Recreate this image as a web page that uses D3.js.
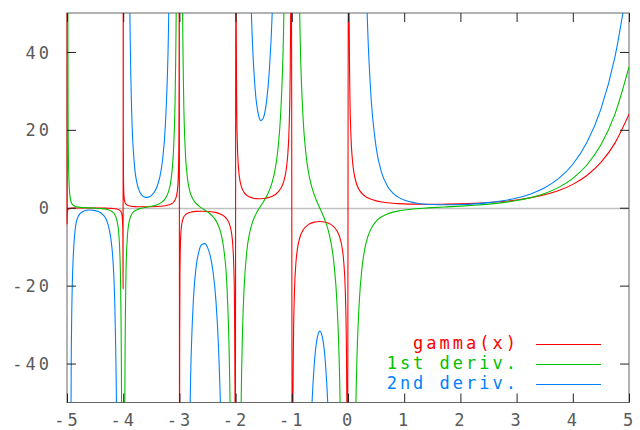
<!DOCTYPE html>
<html>
<head>
<meta charset="utf-8">
<script src="https://cdnjs.cloudflare.com/ajax/libs/d3/7.8.5/d3.min.js"></script>
<style>
body { margin: 0; background: #fff; }
#visual { width: 640px; height: 430px; }
text { font-family: "DejaVu Sans Mono", monospace; font-size: 17px; letter-spacing: 3px; }
</style>
</head>
<body>
<div id="visual"></div>
<script>
// values (gnuplot joins the gamma samples across the poles)
var gammaPts = [
  [-5, 1000], [-4.998, -4.185], [-4.995, -1.684], [-4.99, -0.848], [-4.98, -0.431], [-4.97, -0.293],
  [-4.95, -0.182], [-4.9, -0.100], [-4.8, -0.062], [-4.7, -0.054], [-4.6, -0.054], [-4.5, -0.060],
  [-4.4, -0.074], [-4.3, -0.102], [-4.2, -0.164], [-4.1, -0.364], [-4.05, -0.776], [-4.03, -1.329],
  [-4.02, -2.023], [-4.01, -4.105], [-4.005, -8.271], [-4.002, -20.77],
  [-3.9995, 83.40], [-3.998, 20.92], [-3.995, 8.411], [-3.99, 4.231], [-3.98, 2.148], [-3.97, 1.455],
  [-3.95, 0.902], [-3.9, 0.492], [-3.8, 0.300], [-3.7, 0.252], [-3.6, 0.247], [-3.5, 0.270],
  [-3.4, 0.326], [-3.3, 0.439], [-3.2, 0.689], [-3.15, 0.952], [-3.1, 1.492], [-3.05, 3.142],
  [-3.03, 5.357], [-3.02, 8.131], [-3.01, 16.46], [-3.005, 33.13], [-3.002, 83.12],
  [-2.998, -83.63], [-2.995, -33.60], [-2.99, -16.88], [-2.98, -8.550], [-2.97, -5.777], [-2.95, -3.563],
  [-2.925, -2.463], [-2.9, -1.918], [-2.85, -1.388], [-2.8, -1.139], [-2.7, -0.931], [-2.6, -0.889],
  [-2.5, -0.945], [-2.4, -1.108], [-2.3, -1.447], [-2.2, -2.205], [-2.15, -3.000], [-2.1, -4.626],
  [-2.075, -6.272], [-2.05, -9.584], [-2.03, -16.23], [-2.02, -24.56], [-2.01, -49.55], [-2.005, -99.54],
  [-1.995, 100.47], [-1.99, 50.47], [-1.98, 25.48], [-1.97, 17.16], [-1.95, 10.51], [-1.925, 7.203],
  [-1.9, 5.563], [-1.85, 3.956], [-1.8, 3.188], [-1.7, 2.514], [-1.6, 2.311], [-1.5, 2.363],
  [-1.4, 2.659], [-1.3, 3.328], [-1.2, 4.851], [-1.15, 6.449], [-1.1, 9.715], [-1.075, 13.01],
  [-1.05, 19.65], [-1.03, 32.95], [-1.02, 49.61], [-1.01, 99.59],
  [-0.99, -100.44], [-0.98, -50.45], [-0.97, -33.80], [-0.95, -20.49], [-0.925, -13.87], [-0.9, -10.57],
  [-0.85, -7.318], [-0.8, -5.739], [-0.7, -4.274], [-0.6, -3.697], [-0.5, -3.545], [-0.4, -3.723],
  [-0.3, -4.327], [-0.2, -5.821], [-0.15, -7.417], [-0.1, -10.69], [-0.075, -13.99], [-0.05, -20.63],
  [-0.03, -33.94], [-0.02, -50.60], [-0.01, -100.59],
  [0.01, 99.43], [0.02, 49.44], [0.03, 32.79], [0.05, 19.47], [0.075, 12.83], [0.1, 9.514],
  [0.15, 6.220], [0.2, 4.591], [0.3, 2.992], [0.4, 2.218], [0.5, 1.772], [0.6, 1.489], [0.7, 1.298],
  [0.8, 1.164], [0.9, 1.069], [1, 1], [1.2, 0.918], [1.4, 0.887], [1.5, 0.886], [1.75, 0.919], [2, 1],
  [2.25, 1.133], [2.5, 1.329], [2.75, 1.608], [3, 2], [3.25, 2.549], [3.5, 3.323], [3.75, 4.423],
  [4, 6], [4.25, 8.285], [4.5, 11.63], [4.75, 16.59], [5, 24]
];

// null = gap at a pole
var deriv1Pts = [
  [-4.99, 83.31], [-4.98, 20.81], [-4.97, 9.232], [-4.95, 3.305], [-4.925, 1.451], [-4.9, 0.801],
  [-4.85, 0.334], [-4.8, 0.166], [-4.7, 0.034], [-4.6, -0.033], [-4.5, -0.097], [-4.4, -0.193],
  [-4.3, -0.393], [-4.2, -0.964], [-4.15, -1.768], [-4.1, -4.075], [-4.075, -7.312], [-4.05, -16.57],
  [-4.03, -46.19], [-4.02, -104.1],
  null,
  [-3.98, -104.05], [-3.97, -46.18], [-3.95, -16.54], [-3.925, -7.275], [-3.9, -4.026], [-3.875, -2.517],
  [-3.85, -1.692], [-3.8, -0.858], [-3.75, -0.453], [-3.7, -0.213], [-3.65, -0.043], [-3.6, 0.097],
  [-3.5, 0.375], [-3.4, 0.777], [-3.3, 1.588], [-3.25, 2.395], [-3.2, 3.883], [-3.15, 7.107],
  [-3.1, 16.34], [-3.075, 29.30], [-3.05, 66.32], [-3.03, 184.8],
  null,
  [-2.97, 184.8], [-2.95, 66.24], [-2.925, 29.18], [-2.9, 16.19], [-2.85, 6.875], [-2.8, 3.560],
  [-2.75, 1.968], [-2.7, 1.038], [-2.65, 0.402], [-2.6, -0.102], [-2.55, -0.563], [-2.5, -1.043],
  [-2.45, -1.601], [-2.4, -2.316], [-2.35, -3.309], [-2.3, -4.801], [-2.25, -7.248], [-2.2, -11.74],
  [-2.15, -21.44], [-2.1, -49.18], [-2.075, -88.04],
  null,
  [-1.95, -199.0], [-1.925, -87.82], [-1.9, -48.88], [-1.875, -30.82], [-1.85, -20.98], [-1.8, -11.11],
  [-1.75, -6.416], [-1.7, -3.735], [-1.65, -1.962], [-1.6, -0.623], [-1.55, 0.531], [-1.5, 1.662],
  [-1.45, 2.913], [-1.4, 4.451], [-1.35, 6.528], [-1.3, 9.594], [-1.25, 14.56], [-1.2, 23.62],
  [-1.15, 43.09], [-1.125, 62.65], [-1.1, 98.65],
  null,
  [-0.925, 176.3], [-0.9, 98.44], [-0.875, 62.39], [-0.85, 42.77], [-0.8, 23.18], [-0.75, 13.99],
  [-0.7, 8.863], [-0.65, 5.611], [-0.6, 3.308], [-0.55, 1.486], [-0.5, -0.129], [-0.45, -1.746],
  [-0.4, -3.572], [-0.35, -5.883], [-0.3, -9.144], [-0.25, -14.28], [-0.2, -23.49], [-0.15, -43.10],
  [-0.125, -62.73], [-0.1, -98.80], [-0.075, -176.6],
  null,
  [0.075, -176.9], [0.1, -99.17], [0.125, -63.20], [0.15, -43.67], [0.2, -24.28], [0.25, -15.33],
  [0.3, -10.48], [0.35, -7.564], [0.4, -5.682], [0.5, -3.480], [0.6, -2.294], [0.7, -1.584],
  [0.8, -1.124], [0.9, -0.807], [1, -0.577], [1.2, -0.265], [1.4, -0.054], [1.5, 0.032], [1.75, 0.227],
  [2, 0.423], [2.25, 0.649], [2.5, 0.935], [2.75, 1.317], [3, 1.846], [3.25, 2.593], [3.5, 3.666],
  [3.75, 5.230], [4, 7.537], [4.25, 10.98], [4.5, 16.16], [4.75, 24.04], [5, 36.15]
];

var deriv2Pts = [
  [-4.95, -133.4], [-4.925, -39.58], [-4.9, -16.75], [-4.85, -5.042], [-4.8, -2.212], [-4.7, -0.819],
  [-4.6, -0.595], [-4.5, -0.736], [-4.4, -1.298], [-4.3, -3.031], [-4.2, -10.31], [-4.15, -24.56],
  [-4.1, -83.17], [-4.075, -197.4],
  null,
  [-3.95, 667.0], [-3.925, 197.9], [-3.9, 83.69], [-3.875, 43.06], [-3.85, 25.12], [-3.8, 10.95],
  [-3.75, 5.992], [-3.7, 3.915], [-3.65, 3.000], [-3.6, 2.672], [-3.55, 2.726], [-3.5, 3.119],
  [-3.45, 3.920], [-3.4, 5.326], [-3.35, 7.775], [-3.3, 12.25], [-3.25, 21.14], [-3.2, 41.38],
  [-3.175, 61.86], [-3.15, 98.39],
  null,
  [-2.9, -334.4], [-2.85, -100.1], [-2.825, -63.68], [-2.8, -43.31], [-2.75, -23.38], [-2.7, -14.91],
  [-2.65, -11.03], [-2.6, -9.424], [-2.55, -9.215], [-2.5, -10.17], [-2.45, -12.43], [-2.4, -16.55],
  [-2.35, -23.85], [-2.3, -37.23], [-2.25, -63.91], [-2.2, -124.7],
  null,
  [-1.85, 299.0], [-1.8, 128.4], [-1.75, 68.22], [-1.7, 42.33], [-1.65, 30.05], [-1.6, 24.30],
  [-1.55, 22.37], [-1.5, 23.33], [-1.45, 27.24], [-1.4, 35.10], [-1.35, 49.43], [-1.3, 76.04],
  [-1.25, 129.3],
  null,
  [-0.8, -253.3], [-0.75, -132.2], [-0.7, -79.44], [-0.65, -53.50], [-0.6, -40.13], [-0.55, -33.62],
  [-0.5, -31.68], [-0.45, -33.67], [-0.4, -40.23], [-0.35, -53.67], [-0.3, -79.66], [-0.25, -132.5],
  [-0.2, -253.7],
  null,
  [0.2, 249.0], [0.25, 127.2], [0.3, 73.33], [0.35, 46.00], [0.4, 30.69], [0.5, 15.58], [0.6, 8.950],
  [0.7, 5.611], [0.8, 3.761], [0.9, 2.664], [1, 1.978], [1.2, 1.240], [1.4, 0.913], [1.5, 0.830],
  [1.75, 0.759], [2, 0.824], [2.25, 1.003], [2.5, 1.309], [2.75, 1.782], [3, 2.493], [3.25, 3.554],
  [3.5, 5.142], [3.75, 7.536], [4, 11.17], [4.25, 16.74], [4.5, 25.33], [4.75, 38.72], [5, 59.75]
];

var xTicks = [-5, -4, -3, -2, -1, 0, 1, 2, 3, 4, 5];
var xTickLabels = ["-5", "-4", "-3", "-2", "-1", "0", "1", "2", "3", "4", "5"];
var yTicks = [-40, -20, 0, 20, 40];
var yTickLabels = ["-40", "-20", "0", "20", "40"];
var legendLabels = ["gamma(x)", "1st deriv.", "2nd deriv."];
var colors = ["#ff0000", "#00c000", "#0080ff"];

var margin = { top: 13, right: 11, bottom: 27.5, left: 67 },
    width = 640 - margin.left - margin.right,
    height = 430 - margin.top - margin.bottom;

var svg = d3.select("#visual").append("svg")
    .attr("width", 640)
    .attr("height", 430)
  .append("g")
    .attr("transform", "translate(" + margin.left + "," + margin.top + ")");

var x = d3.scaleLinear().domain([-5, 5]).range([0, width]);
var y = d3.scaleLinear().domain([-50, 50]).range([height, 0]);

svg.append("clipPath").attr("id", "plotclip")
  .append("rect")
    .attr("x", -1)
    .attr("width", width + 1)
    .attr("height", height);

svg.append("rect")
    .attr("width", width)
    .attr("height", height)
    .attr("fill", "none")
    .attr("stroke", "#666");

// zero axis
svg.append("line")
    .attr("x1", 0).attr("x2", width)
    .attr("y1", Math.round(y(0)) + 0.5).attr("y2", Math.round(y(0)) + 0.5)
    .attr("stroke", "#c0c0c0")
    .attr("stroke-width", 1.5);

var line = d3.line()
    .defined(function (d) { return d !== null; })
    .curve(d3.curveMonotoneX)
    .x(function (d) { return x(d[0]); })
    .y(function (d) { return y(d[1]); });

var plot = svg.append("g").attr("clip-path", "url(#plotclip)");

[gammaPts, deriv1Pts, deriv2Pts].forEach(function (pts, i) {
    plot.append("path")
        .datum(pts)
        .attr("d", line)
        .attr("fill", "none")
        .attr("stroke", colors[i])
        .attr("stroke-width", 1.1);
});

// ticks on all four sides, pointing inward
var bottomAxis = svg.append("g")
    .attr("transform", "translate(0," + height + ")")
    .call(d3.axisBottom(x).tickValues(xTicks).tickSizeInner(-9).tickSizeOuter(0)
        .tickFormat(function (d, i) { return xTickLabels[i]; }));
bottomAxis.selectAll("text").attr("y", 23.5).attr("dy", 0).attr("dx", 0);

var leftAxis = svg.append("g")
    .call(d3.axisLeft(y).tickValues(yTicks).tickSizeInner(-9).tickSizeOuter(0)
        .tickFormat(function (d, i) { return yTickLabels[i]; }));
leftAxis.selectAll("text").attr("x", -15).attr("dy", "0.36em");

svg.append("g")
    .call(d3.axisTop(x).tickValues(xTicks).tickSizeInner(-9).tickSizeOuter(0).tickFormat(""));
svg.append("g")
    .attr("transform", "translate(" + width + ",0)")
    .call(d3.axisRight(y).tickValues(yTicks).tickSizeInner(-9).tickSizeOuter(0).tickFormat(""));

svg.selectAll(".domain").remove();
svg.selectAll(".tick line").attr("stroke", "#222");
svg.selectAll(".tick text")
    .attr("fill", "#5a5a5a")
    .style("font-family", "'DejaVu Sans Mono', monospace")
    .style("font-size", "17px");

// key
var key = svg.selectAll(".key")
    .data(legendLabels)
  .enter().append("g")
    .attr("class", "key")
    .attr("transform", function (d, i) { return "translate(0," + (331 + i * 20) + ")"; });

key.append("text")
    .attr("x", 452)
    .attr("y", 5)
    .attr("text-anchor", "end")
    .attr("fill", function (d, i) { return colors[i]; })
    .text(function (d) { return d; });

key.append("line")
    .attr("x1", 469).attr("x2", 534)
    .attr("y1", 0.5).attr("y2", 0.5)
    .attr("stroke", function (d, i) { return colors[i]; })
    .attr("stroke-width", 1.1);
</script>
</body>
</html>
